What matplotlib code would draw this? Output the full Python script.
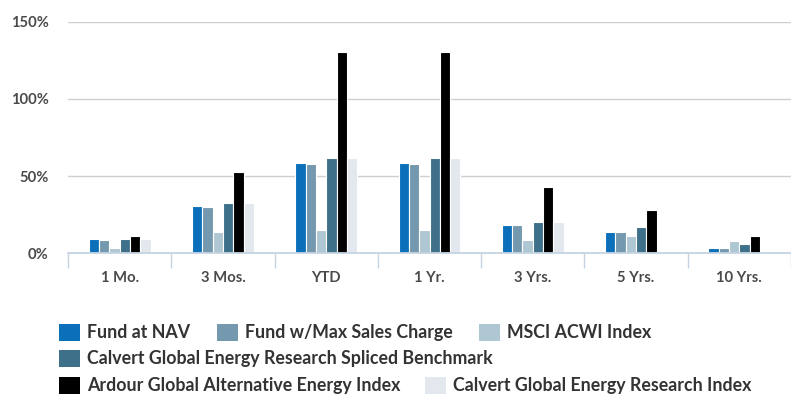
"""Grouped bar chart of cumulative returns by period."""
import numpy as np
import matplotlib.pyplot as plt
from matplotlib.patches import Rectangle
from matplotlib.ticker import FuncFormatter

plt.rcParams['font.family'] = ['Lato', 'DejaVu Sans']

# Periods and series values (%)
periods = ["1 Mo.", "3 Mos.", "YTD", "1 Yr.", "3 Yrs.", "5 Yrs.", "10 Yrs."]
fund_nav = [9.5, 30.4, 58.7, 58.7, 18.3, 13.8, 3.2]
fund_max_charge = [8.6, 29.8, 57.8, 57.8, 18.3, 13.8, 3.2]
msci_acwi = [3.4, 14.0, 14.9, 14.9, 8.6, 11.2, 7.8]
spliced_benchmark = [9.5, 32.4, 61.5, 61.5, 20.1, 17.3, 5.8]
ardour_index = [11.2, 52.7, 130.2, 130.2, 42.9, 27.8, 11.2]
calvert_index = [9.5, 32.4, 61.5, 61.5, 20.1, np.nan, np.nan]

series = [
    ("Fund at NAV", fund_nav, "#0b70b9"),
    ("Fund w/Max Sales Charge", fund_max_charge, "#7499ae"),
    ("MSCI ACWI Index", msci_acwi, "#afc6d3"),
    ("Calvert Global Energy Research Spliced Benchmark", spliced_benchmark, "#3e7189"),
    ("Ardour Global Alternative Energy Index", ardour_index, "#000000"),
    ("Calvert Global Energy Research Index", calvert_index, "#e2e8ed"),
]

TEXT = '#4a4a4a'
W, H = 791, 394

fig = plt.figure(figsize=(W / 100, H / 100), dpi=100)
fig.patch.set_facecolor('white')
ax = fig.add_axes([68 / W, 1 - 253.3 / H, 1 - 68 / W, (253.3 - 21.7) / H])

x = np.arange(len(periods))
bar_w = 0.1
for i, (name, vals, color) in enumerate(series):
    offset = (i - (len(series) - 1) / 2) * bar_w
    ax.bar(x + offset, vals, width=bar_w, color=color,
           edgecolor='white', linewidth=0.8, zorder=3)

ax.set_xlim(-0.5, len(periods) - 0.5)
ax.set_ylim(0, 150)
ax.set_yticks([0, 50, 100, 150])
ax.yaxis.set_major_formatter(FuncFormatter(lambda v, _: f"{v:.0f}%"))
ax.grid(axis='y', color='#cfcfcf', linewidth=1.0, zorder=0)

for side in ['top', 'right', 'left']:
    ax.spines[side].set_visible(False)
ax.spines['bottom'].set_color('#c5d3e3')
ax.spines['bottom'].set_linewidth(1.3)
ax.spines['bottom'].set_zorder(4)

ax.set_xticks(x)
ax.set_xticklabels(periods)
ax.set_xticks(np.arange(len(periods) + 1) - 0.5, minor=True)
ax.tick_params(axis='x', which='major', length=0, pad=12.5,
               labelsize=10.6, labelcolor=TEXT)
ax.tick_params(axis='x', which='minor', length=10.5, width=1.0,
               color='#c5d3e3', direction='out')
ax.tick_params(axis='y', length=0, pad=14, labelsize=10.6, labelcolor=TEXT)
for lbl in ax.get_xticklabels() + ax.get_yticklabels():
    lbl.set_fontweight('bold')

# Legend laid out in rows, as a wrapped flow
legend_rows = [
    (332.5, [(59, 0), (217, 1), (479, 2)]),
    (358.5, [(59, 3)]),
    (385.0, [(59, 4), (425, 5)]),
]
sq_w, sq_h = 21, 17
for yc, items in legend_rows:
    for xl, idx in items:
        name, _, color = series[idx]
        fig.patches.append(Rectangle((xl / W, 1 - (yc + sq_h / 2) / H),
                                     sq_w / W, sq_h / H,
                                     transform=fig.transFigure,
                                     facecolor=color, edgecolor='none'))
        fig.text((xl + sq_w + 7) / W, 1 - yc / H, name, fontsize=12.8,
                 fontweight='bold', color='#333333', ha='left', va='center')

fig.savefig('out.png', dpi=100, facecolor='white')
